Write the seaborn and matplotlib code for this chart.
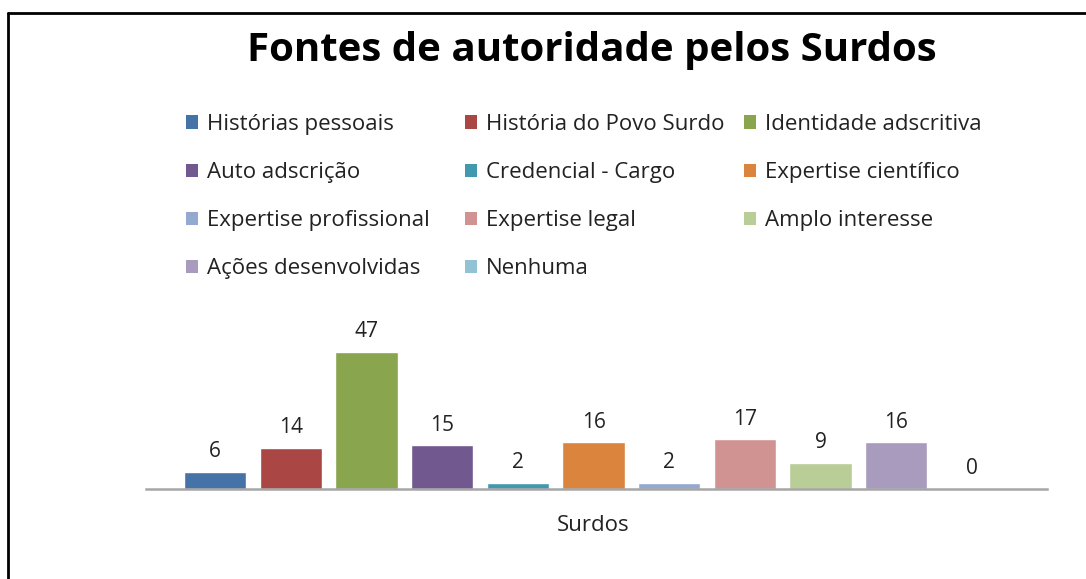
import matplotlib
matplotlib.use("Agg")
import matplotlib.pyplot as plt
from matplotlib.patches import Patch
from matplotlib.lines import Line2D
import pandas as pd
import seaborn as sns

# ------------------------------
# Data
# ------------------------------
grupo = "Surdos"
fontes = [
    "Histórias pessoais", "História do Povo Surdo", "Identidade adscritiva",
    "Auto adscrição", "Credencial - Cargo", "Expertise científico",
    "Expertise profissional", "Expertise legal", "Amplo interesse",
    "Ações desenvolvidas", "Nenhuma",
]
valores = [6, 14, 47, 15, 2, 16, 2, 17, 9, 16, 0]
cores = [
    "#4572A7", "#AA4643", "#89A54E", "#71588F", "#4198AF", "#DB843D",
    "#93A9CF", "#D19392", "#B9CD96", "#A99BBD", "#92C3D4",
]

df = pd.DataFrame({"grupo": grupo, "fonte": fontes, "valor": valores})

sns.set_style("white")
plt.rcParams["font.family"] = ["Open Sans", "DejaVu Sans"]

W, H = 1086, 579
fig = plt.figure(figsize=(W / 100, H / 100), dpi=100)
ax = fig.add_axes([146 / W, 1 - 489 / H, 901 / W, 189 / H])

sns.barplot(data=df, x="grupo", y="valor", hue="fonte", hue_order=fontes,
            palette=cores, width=0.924, gap=0.175, legend=False, ax=ax,
            saturation=1)

for cont in ax.containers:
    ax.bar_label(cont, padding=7, fontsize=15, color="#222222")

ax.set_ylim(0, 64.8)
ax.set_xlim(-0.4967, 0.5033)
ax.set_xlabel("")
ax.set_ylabel("")
ax.set_yticks([])
ax.tick_params(axis="x", length=0, pad=19, labelsize=16, colors="#222222")
for s in ["top", "left", "right"]:
    ax.spines[s].set_visible(False)
ax.spines["bottom"].set_color("#A6A6A6")
ax.spines["bottom"].set_linewidth(1.8)

# title
fig.text(592 / W, 1 - 51 / H, "Fontes de autoridade pelos Surdos",
         ha="center", va="center", fontsize=29, fontweight="bold", color="black")

# legend: three columns, filled row by row
handles = [Patch(facecolor=c, edgecolor="none") for c in cores]
col_x = [186, 465, 744]
for j, x in enumerate(col_x):
    idx = list(range(j, len(fontes), 3))
    fig.legend([handles[i] for i in idx], [fontes[i] for i in idx],
               loc="upper left", bbox_to_anchor=(x / W, 1 - 114 / H),
               frameon=False, fontsize=16, borderpad=0, borderaxespad=0,
               handlelength=0.55, handleheight=0.55, handletextpad=0.4,
               labelspacing=1.22, labelcolor="#222222")

# frame around the chart (cut off at right and bottom)
fig.add_artist(Line2D([8 / W, 8 / W], [-0.1, 1 - 13 / H], color="black", lw=2))
fig.add_artist(Line2D([8 / W, 1.1], [1 - 13 / H, 1 - 13 / H], color="black", lw=2))

fig.savefig("out.png", dpi=100)
